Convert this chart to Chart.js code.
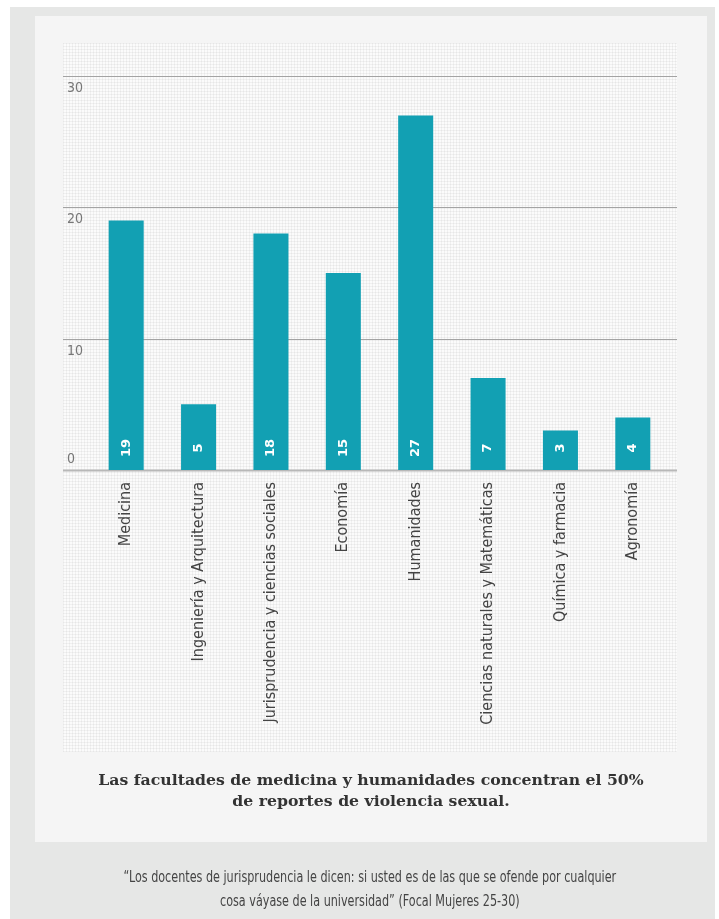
<!DOCTYPE html>
<html>
<head>
<meta charset="utf-8">
<script src="https://cdn.jsdelivr.net/npm/chart.js@4.4.1/dist/chart.umd.min.js"></script>
<style>
  html, body { margin: 0; padding: 0; background: #ffffff; }
  body { width: 719px; height: 919px; position: relative; overflow: hidden; }
  #outer { position: absolute; left: 10px; top: 7px; width: 705px; height: 912px; background: #e6e7e6; }
  #panel { position: absolute; left: 35px; top: 16px; width: 672px; height: 826px; background: #f5f5f5; }
  #dots { position: absolute; left: 63px; top: 43px; width: 614px; height: 709px;
    background-color: #fbfbfb;
    background-image:
      repeating-linear-gradient(0deg, rgba(0,0,0,0.045) 0px, rgba(0,0,0,0.045) 1px, transparent 1px, transparent 3px),
      repeating-linear-gradient(90deg, rgba(0,0,0,0.045) 0px, rgba(0,0,0,0.045) 1px, transparent 1px, transparent 3px);
  }
  #chartwrap { position: absolute; left: 0; top: 0; width: 719px; height: 919px; }
  #title { position: absolute; left: 35px; top: 769px; width: 672px; text-align: center;
    font-family: "DejaVu Serif", serif; font-weight: bold; font-size: 15.7px; line-height: 21px; color: #333; }
  #quotewrap { position: absolute; left: 10px; top: 865px; width: 720px; text-align: center; }
  #quote { display: inline-block; transform: scaleX(0.83); transform-origin: center;
    font-family: "Liberation Sans Narrow", "DejaVu Sans Condensed", sans-serif; font-size: 15px; line-height: 24px; color: #444; }
</style>
</head>
<body>
<div id="outer"></div>
<div id="panel"></div>
<div id="dots"></div>
<div id="chartwrap"><canvas id="c" width="719" height="919"></canvas></div>
<div id="title">Las facultades de medicina y humanidades concentran el 50%<br>de reportes de violencia sexual.</div>
<div id="quotewrap"><div id="quote">“Los docentes de jurisprudencia le dicen: si usted es de las que se ofende por cualquier<br>cosa váyase de la universidad” (Focal Mujeres 25-30)</div></div>
<script>
const categories = [
  "Medicina",
  "Ingeniería y Arquitectura",
  "Jurisprudencia y ciencias sociales",
  "Economía",
  "Humanidades",
  "Ciencias naturales y Matemáticas",
  "Química y farmacia",
  "Agronomía"
];
const reportes = [19, 5, 18, 15, 27, 7, 3, 4];
const yTicks = [0, 10, 20, 30];

const barColor = "#12a0b3";

const gridPlugin = {
  id: "gridPlugin",
  beforeDatasetsDraw(chart) {
    const ctx = chart.ctx;
    const y = chart.scales.y;
    ctx.save();
    ctx.font = "14px 'Liberation Sans Narrow', 'DejaVu Sans Condensed', sans-serif";
    ctx.fillStyle = "#777";
    ctx.textAlign = "left";
    yTicks.forEach(v => {
      const py = Math.round(y.getPixelForValue(v));
      if (v === 0) {
        ctx.strokeStyle = "#b8b8b8";
        ctx.lineWidth = 2;
      } else {
        ctx.strokeStyle = "#a3a3a3";
        ctx.lineWidth = 1;
      }
      ctx.beginPath();
      ctx.moveTo(63, py + 0.5);
      ctx.lineTo(677, py + 0.5);
      ctx.stroke();
      if (v === 0) {
        ctx.textBaseline = "bottom";
        ctx.fillText(String(v), 67, py - 4);
      } else {
        ctx.textBaseline = "top";
        ctx.fillText(String(v), 67, py + 5);
      }
    });
    ctx.restore();
  },
  afterDatasetsDraw(chart) {
    const ctx = chart.ctx;
    const meta = chart.getDatasetMeta(0);
    ctx.save();
    ctx.font = "bold 13px 'DejaVu Sans', sans-serif";
    ctx.fillStyle = "#ffffff";
    ctx.textAlign = "center";
    ctx.textBaseline = "middle";
    meta.data.forEach((bar, i) => {
      ctx.save();
      ctx.translate(bar.x, bar.base - 22);
      ctx.rotate(-Math.PI / 2);
      ctx.fillText(String(reportes[i]), 0, 0);
      ctx.restore();
    });
    ctx.restore();
  }
};

new Chart(document.getElementById("c"), {
  type: "bar",
  data: {
    labels: categories,
    datasets: [{
      data: reportes,
      backgroundColor: barColor,
      borderWidth: 0,
      barPercentage: 0.484,
      categoryPercentage: 1.0
    }]
  },
  options: {
    responsive: false,
    animation: false,
    layout: { padding: { left: 90, right: 50, top: 76, bottom: 0 } },
    plugins: { legend: { display: false }, tooltip: { enabled: false }, title: { display: false } },
    scales: {
      y: {
        display: false,
        min: 0,
        max: 30
      },
      x: {
        grid: { display: false, drawTicks: false },
        border: { display: false },
        ticks: {
          minRotation: 90,
          maxRotation: 90,
          autoSkip: false,
          padding: 12,
          color: "#444",
          font: { family: "'Liberation Sans Narrow', 'DejaVu Sans Condensed', sans-serif", size: 16 }
        },
        afterFit(scale) { scale.height = 919 - 470; }
      }
    }
  },
  plugins: [gridPlugin]
});
</script>
</body>
</html>
